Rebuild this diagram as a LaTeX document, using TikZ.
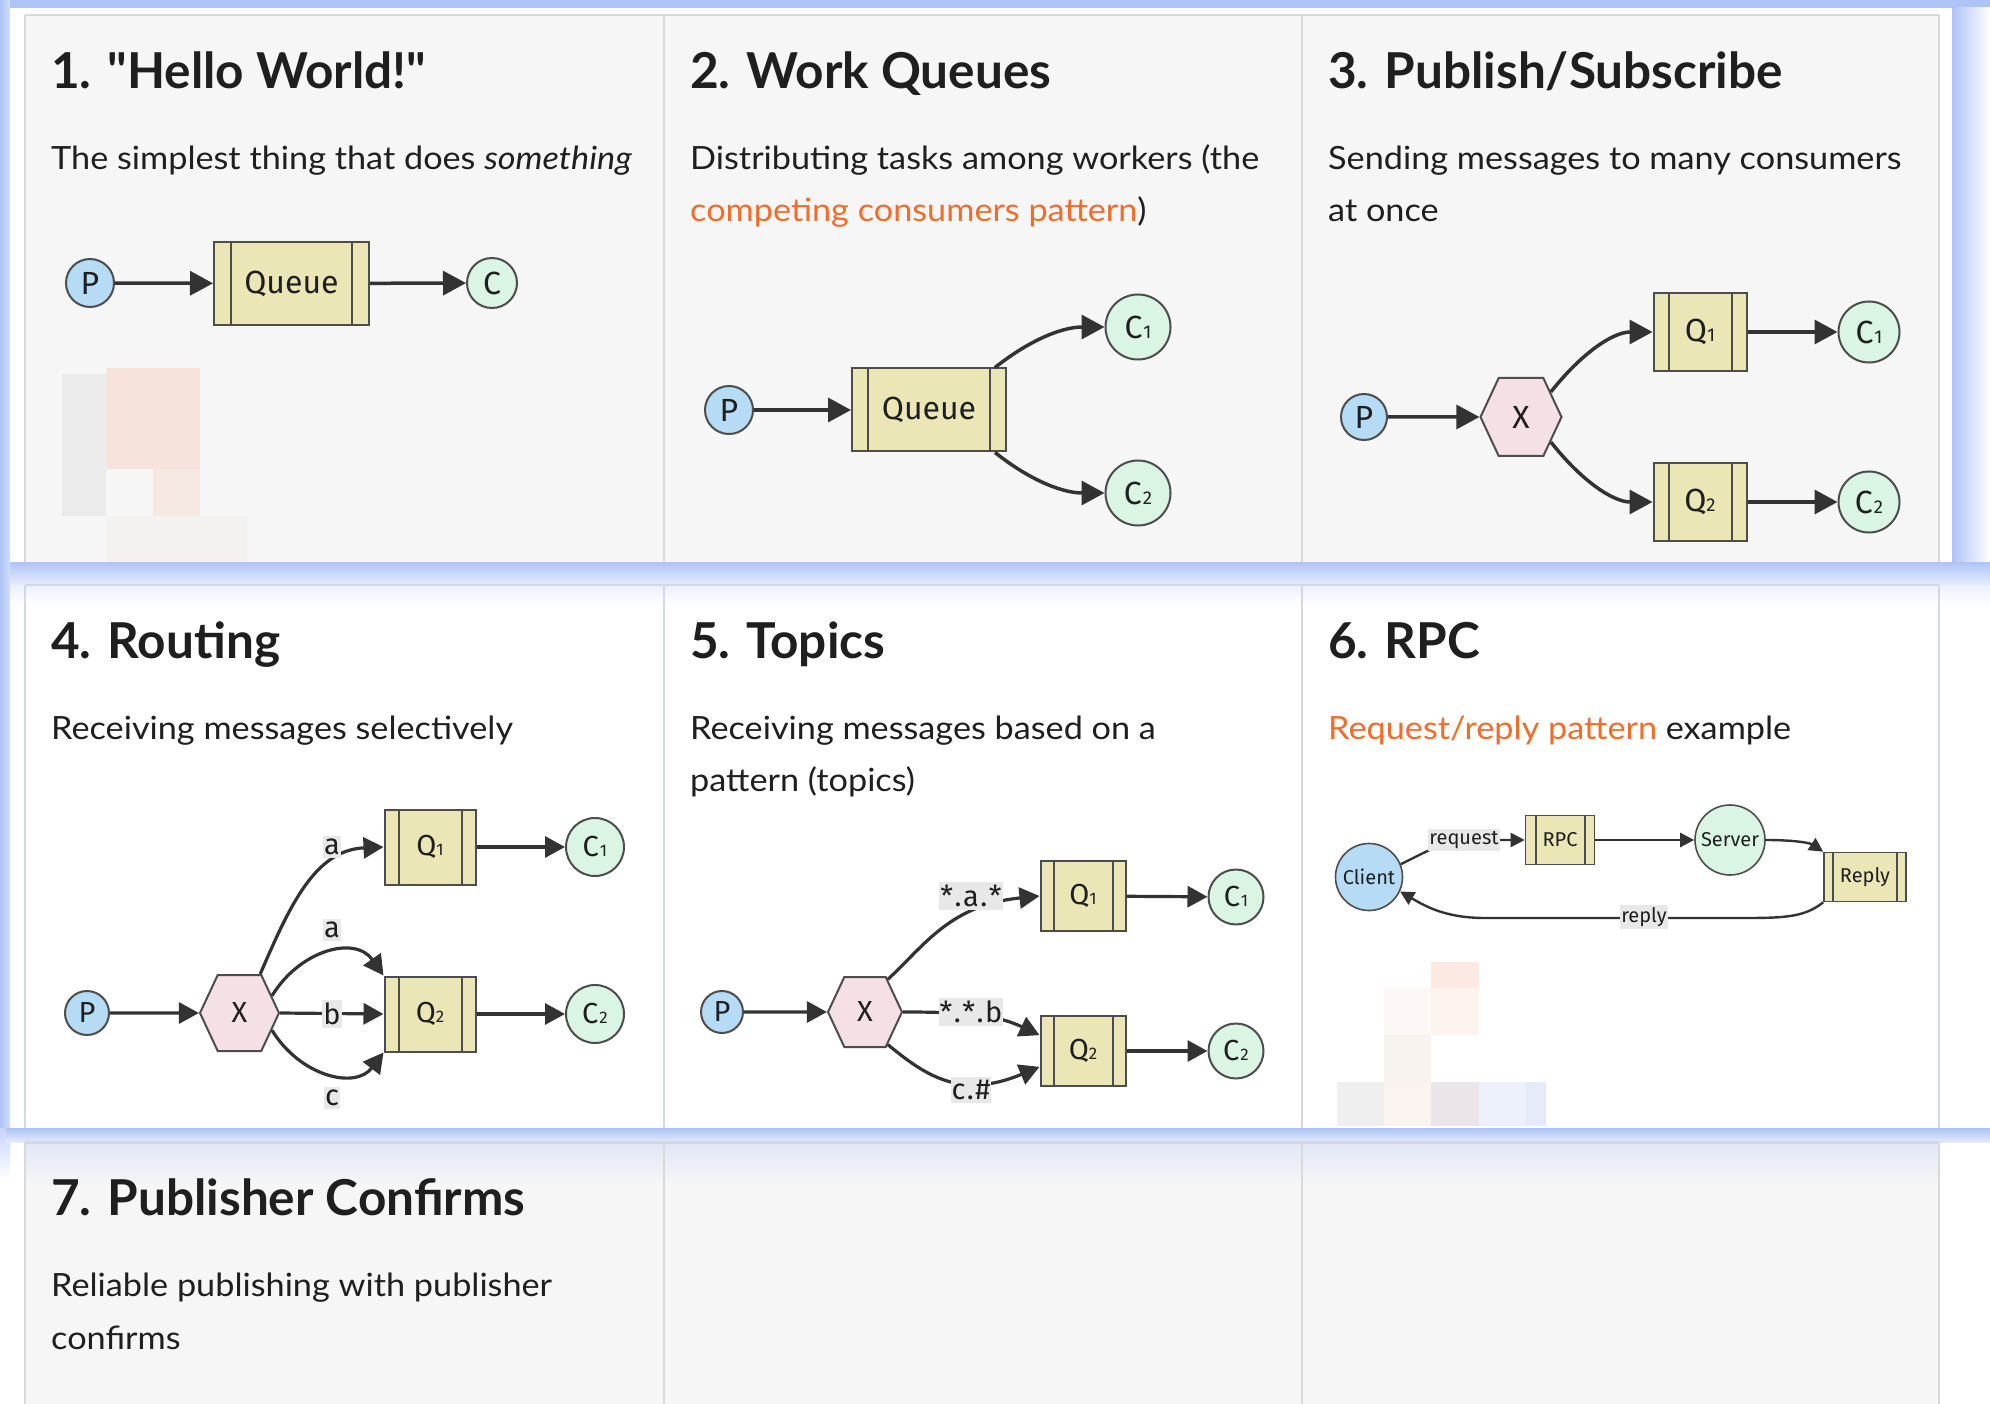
\documentclass[tikz,border=0pt]{standalone}
\usepackage{fontspec}
\setmainfont{Lato}
\newfontfamily\titlefont{Lato}[Ligatures=TeXOff]
\newfontfamily\bodyfont{Lato}[FakeStretch=1.07]
\newfontfamily\nodefont{Fira Sans}
\usetikzlibrary{arrows.meta,shapes.geometric,shapes.symbols}
\newcommand\subd[1]{{\edef\subsz{\the\dimexpr 0.58\fontdimen6\font\relax}\fontsize{\subsz}{\subsz}\selectfont #1}}
\newcommand\dotk{\kern1.5pt.\kern1.5pt}
\definecolor{cellgray}{HTML}{F6F6F6}
\definecolor{gridc}{HTML}{D9D9D9}
\definecolor{gridb}{HTML}{D2D8E6}
\definecolor{hlblue}{HTML}{AEC3F6}
\definecolor{txt}{HTML}{1F1F1F}
\definecolor{orng}{HTML}{F26C2A}
\definecolor{nline}{HTML}{4D4D4D}
\definecolor{ecol}{HTML}{333333}
\definecolor{pfill}{HTML}{B5DBF5}
\definecolor{cfill}{HTML}{DAF5E4}
\definecolor{qfill}{HTML}{EAE6B5}
\definecolor{xfill}{HTML}{F5E1E5}
\definecolor{lblbg}{HTML}{E8E8E8}
\definecolor{mza}{HTML}{EBEBEB}
\definecolor{mzb}{HTML}{F5E3DC}
\definecolor{mzc}{HTML}{F5E9E2}
\definecolor{mzd}{HTML}{F3F2F0}
\definecolor{mze}{HTML}{FBE9E2}
\definecolor{mzf}{HTML}{FCF3EF}
\definecolor{mzg}{HTML}{FDF8F6}
\definecolor{mzh}{HTML}{F9F3F0}
\definecolor{mzi}{HTML}{EFEFEF}
\definecolor{mzj}{HTML}{FBF3EF}
\definecolor{mzk}{HTML}{EBE5EA}
\definecolor{mzl}{HTML}{ECF0FA}
\definecolor{mzm}{HTML}{E5EBF8}
\tikzset{
  title/.style={anchor=base west, inner sep=0, text=txt, font=\titlefont\bfseries\fontsize{49.5}{49.5}\selectfont},
  body/.style={anchor=base west, inner sep=0, text=txt, font=\bodyfont\fontsize{32}{32}\selectfont},
  nfont/.style={font=\nodefont\fontsize{#1}{#1}\selectfont},
  pnode/.style={circle, draw=nline, fill=pfill, line width=2pt, inner sep=0, text=txt},
  cnode/.style={circle, draw=nline, fill=cfill, line width=2pt, inner sep=0, text=txt},
  xnode/.style={signal, signal to=east and west, signal pointer angle=130, draw=nline, fill=xfill, line width=2pt, inner sep=0, text=txt},
  queue/.style={rectangle, draw=nline, fill=qfill, line width=2pt, inner sep=0, text=txt,
    path picture={\draw[nline, line width=2pt]
      ([xshift=#1]path picture bounding box.north west) -- ([xshift=#1]path picture bounding box.south west)
      ([xshift=-#1]path picture bounding box.north east) -- ([xshift=-#1]path picture bounding box.south east);}},
  lbl/.style={fill=lblbg, inner xsep=1pt, inner ysep=3pt, text=txt},
  bigedge/.style={draw=ecol, line width=3.5pt, -{Triangle[length=23pt,width=24pt]}},
  midedge/.style={draw=ecol, line width=3.2pt, -{Triangle[length=20pt,width=21pt]}},
  smalledge/.style={draw=ecol, line width=2.4pt, -{Triangle[length=14pt,width=14pt]}},
}
\begin{document}
\begin{tikzpicture}[x=1pt,y=-1pt]
\useasboundingbox (0,0) rectangle (1990,1404);
\fill[white] (0,0) rectangle (1990,1404);
% ---------- backgrounds and highlight ----------
\fill[cellgray] (25,1142) rectangle (1939,1404);
\fill[hlblue] (0,0) rectangle (1990,8);
\shade[left color=hlblue, right color=hlblue!55] (0,0) rectangle (10,1130);
\shade[top color=hlblue!70, bottom color=white] (0,1128) rectangle (10,1180);
\fill[white] (10,8) rectangle (1952,562);
\fill[cellgray] (25,15) rectangle (1939,562);
\shade[left color=hlblue, right color=white] (1952,8) rectangle (1990,585);
\shade[top color=hlblue, bottom color=hlblue!30] (10,562) rectangle (1990,585);
\shade[top color=hlblue!25, bottom color=white] (10,585) rectangle (1990,605);
\shade[top color=hlblue, bottom color=hlblue!35] (6,1128) rectangle (1990,1142);
\shade[top color=hlblue!30!cellgray, bottom color=cellgray] (25,1142) rectangle (1939,1185);
% grid lines
\draw[gridc, line width=2pt] (25,15) -- (1939,15);
\draw[gridb, line width=2.5pt] (25,585) -- (1939,585);
\draw[gridb, line width=3pt] (25,1142) -- (1939,1142);
\foreach \gx in {25,664,1302,1939} {
  \draw[gridc, line width=2pt] (\gx,15) -- (\gx,562);
  \draw[gridb, line width=2pt] (\gx,585) -- (\gx,1128);
  \draw[gridc, line width=2pt] (\gx,1142) -- (\gx,1404);
}
% ---------- pixel mosaics ----------
\fill[mza] (62,374) rectangle (106,516);
\fill[mzb] (106,368) rectangle (200,469);
\fill[mzc] (153,469) rectangle (200,516);
\fill[mzd] (106,516) rectangle (247,562);
\fill[mze] (1431,962) rectangle (1479,988);
\fill[mzf] (1431,988) rectangle (1479,1035);
\fill[mzg] (1384,988) rectangle (1431,1035);
\fill[mzh] (1384,1035) rectangle (1431,1082);
\fill[mzi] (1337,1082) rectangle (1384,1126);
\fill[mzj] (1384,1082) rectangle (1431,1126);
\fill[mzk] (1431,1082) rectangle (1479,1126);
\fill[mzl] (1479,1082) rectangle (1526,1126);
\fill[mzm] (1526,1082) rectangle (1546,1126);
% ---------- texts ----------
\node[title] (t1) at (51,89) {1. "Hello World!"};
\node[body] (s1) at (51,170) {The simplest thing that does \textit{something}};
\node[title] (t2) at (690,89) {2. Work Queues};
\node[body] (s2a) at (690,170) {Distributing tasks among workers (the};
\node[body] (s2b) at (690,222) {{\color{orng}competing consumers pattern})};
\node[title] (t3) at (1328,89) {3. Publish/Subscribe};
\node[body] (s3a) at (1328,170) {Sending messages to many consumers};
\node[body] (s3b) at (1328,222) {at once};
\node[title] (t4) at (51,658) {4. Routing};
\node[body] (s4) at (51,739) {Receiving messages selectively};
\node[title] (t5) at (690,658) {5. Topics};
\node[body] (s5a) at (690,739) {Receiving messages based on a};
\node[body] (s5b) at (690,791) {pattern (topics)};
\node[title] (t6) at (1328,658) {6. RPC};
\node[body] (s6) at (1328,739) {{\color{orng}Request/reply pattern} example};
\node[title] (t7) at (51,1215) {7. Publisher Confirms};
\node[body] (s7a) at (51,1296) {Reliable publishing with publisher};
\node[body] (s7b) at (51,1349) {confirms};
% ---------- 1. Hello World ----------
\begin{scope}[nfont=32]
\node[pnode, minimum size=48] (p1) at (90,283) {P};
\node[queue=17, minimum width=155, minimum height=83] (q1) at (291.5,283.5) {Queue};
\node[cnode, minimum size=50] (c1) at (492,283) {C};
\draw[bigedge] (p1) -- (q1);
\draw[bigedge] (q1) -- (c1);
% ---------- 2. Work queues ----------
\node[pnode, minimum size=48] (p2) at (729,410) {P};
\node[queue=16, minimum width=154, minimum height=83] (q2) at (929,410) {Queue};
\node[cnode, minimum size=65] (c21) at (1138,327) {C\kern1pt\subd1};
\node[cnode, minimum size=65] (c22) at (1138,493) {C\kern1pt\subd2};
\draw[bigedge] (p2) -- (q2);
\draw[bigedge] ([xshift=66pt]q2.north) .. controls +(38,-30) and +(-40,0) .. (c21.west);
\draw[bigedge] ([xshift=66pt]q2.south) .. controls +(38,30) and +(-40,0) .. (c22.west);
% ---------- 3. Publish/Subscribe ----------
\node[pnode, minimum size=46] (p3) at (1364,417) {P};
\node[xnode, minimum width=81, minimum height=78] (x3) at (1521,417) {X};
\node[queue=15, minimum width=93, minimum height=78] (q31) at (1700,332) {Q\subd1};
\node[queue=15, minimum width=93, minimum height=78] (q32) at (1700,502) {Q\subd2};
\node[cnode, minimum size=61] (c31) at (1869,332) {C\kern1pt\subd1};
\node[cnode, minimum size=61] (c32) at (1869,502) {C\kern1pt\subd2};
\draw[bigedge] (p3) -- (x3);
\draw[bigedge] (x3.40) .. controls +(30,-38) and +(-40,0) .. (q31.west);
\draw[bigedge] (x3.-40) .. controls +(30,38) and +(-40,0) .. (q32.west);
\draw[bigedge] (q31) -- (c31);
\draw[bigedge] (q32) -- (c32);
\end{scope}
% ---------- 4. Routing ----------
\begin{scope}[nfont=29]
\node[pnode, minimum size=44] (p4) at (87,1013) {P};
\node[xnode, minimum width=79, minimum height=76] (x4) at (239.5,1013) {X};
\node[queue=14, minimum width=91, minimum height=75] (q41) at (430,847) {Q\subd1};
\node[queue=14, minimum width=91, minimum height=75] (q42) at (430,1014) {Q\subd2};
\node[cnode, minimum size=58] (c41) at (595,847) {C\kern1pt\subd1};
\node[cnode, minimum size=58] (c42) at (595,1014) {C\kern1pt\subd2};
\draw[midedge] (p4) -- (x4);
\draw[midedge] (x4.62) .. controls (290,905) and (315,850) .. (q41.west);
\draw[midedge] (x4.28) .. controls (300,950) and (355,935) .. (q42.north west);
\draw[midedge] (x4.east) -- (q42.west);
\draw[midedge] (x4.-28) .. controls (300,1076) and (355,1090) .. (q42.south west);
\draw[midedge] (q41) -- (c41);
\draw[midedge] (q42) -- (c42);
\node[lbl] (l41) at (332,847) {a};
\node[lbl] (l42) at (332,930) {a};
\node[lbl] (l43) at (332,1014) {b};
\node[lbl] (l44) at (332,1098) {c};
% ---------- 5. Topics ----------
\node[pnode, minimum size=42] (p5) at (722,1012) {P};
\node[xnode, minimum width=74, minimum height=70] (x5) at (865,1012) {X};
\node[queue=13, minimum width=85, minimum height=70] (q51) at (1083,896) {Q\subd1};
\node[queue=13, minimum width=85, minimum height=70] (q52) at (1083,1051) {Q\subd2};
\node[cnode, minimum size=55] (c51) at (1236,897) {C\kern1pt\subd1};
\node[cnode, minimum size=55] (c52) at (1236,1051) {C\kern1pt\subd2};
\draw[midedge] (p5) -- (x5);
\draw[midedge] (x5.55) .. controls (925,945) and (950,905) .. (q51.west);
\draw[midedge] (x5.east) .. controls (960,1012) and (995,1014) .. (q52.160);
\draw[midedge] (x5.-55) .. controls (925,1075) and (960,1100) .. (q52.200);
\draw[midedge] (q51) -- (c51);
\draw[midedge] (q52) -- (c52);
\node[lbl] (l51) at (971,896) {*\dotk a\dotk *};
\node[lbl] (l52) at (971,1012) {*\dotk *\dotk b};
\node[lbl] (l53) at (971,1090) {c\dotk\#};
\end{scope}
% ---------- 6. RPC ----------
\begin{scope}[nfont=20]
\node[pnode, minimum size=67, line width=1.6pt] (cl) at (1369,877) {Client};
\node[queue=10, minimum width=69, minimum height=49, line width=1.6pt] (rpc) at (1560,840) {RPC};
\node[cnode, minimum size=70, line width=1.6pt] (srv) at (1730,840) {Server};
\node[queue=9, minimum width=82, minimum height=49, line width=1.6pt] (rep) at (1865,877) {Reply};
\draw[smalledge] (cl.22) .. controls (1430,850) and (1445,840) .. (1470,840) -- (rpc.west);
\draw[smalledge] (rpc) -- (srv);
\draw[smalledge] (srv.east) .. controls (1795,840) and (1810,843) .. (rep.north west);
\draw[smalledge] (rep.south west) .. controls (1805,917) and (1785,918) .. (1745,918) -- (1485,918) .. controls (1445,918) and (1425,906) .. (cl.-25);
\node[lbl, inner ysep=2pt] (l61) at (1464,840) {request};
\node[lbl, inner ysep=2pt] (l62) at (1644,917) {reply};
\end{scope}
\end{tikzpicture}
\end{document}
